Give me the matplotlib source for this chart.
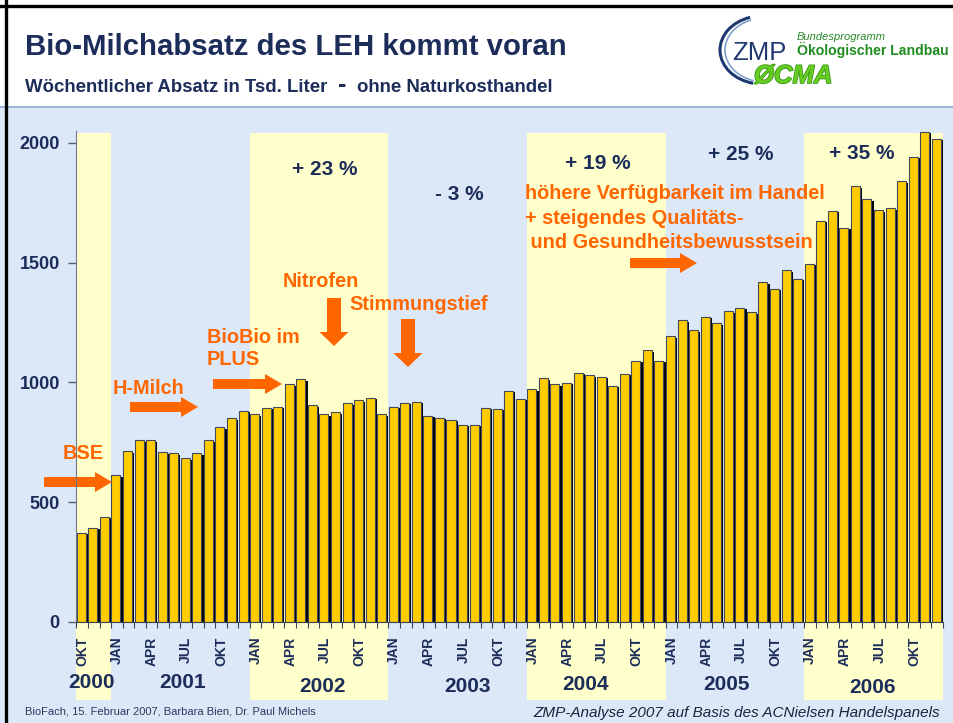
import matplotlib
matplotlib.use("Agg")
import matplotlib.pyplot as plt
import numpy as np
from matplotlib.patches import Polygon, Rectangle, Arc
from matplotlib.transforms import Affine2D, blended_transform_factory
import matplotlib.patheffects as pe

plt.rcParams['font.family'] = ['Liberation Sans', 'DejaVu Sans']

# ---------------- data ----------------
values = [373, 394, 440, 612, 714, 759, 759, 708, 704, 683, 704, 759, 813, 850, 882,
          867, 895, 899, 992, 1014, 905, 867, 875, 913, 925, 937,
          867, 899, 916, 920, 861, 853, 845, 824, 824, 895, 891, 966,
          932, 973, 1019, 992, 999, 1041, 1030, 1025, 987, 1037, 1091, 1136, 1091,
          1194, 1260, 1218, 1275, 1248, 1297, 1312, 1293, 1418, 1392, 1470, 1434,
          1496, 1676, 1717, 1646, 1819, 1765, 1720, 1728, 1840, 1943, 2047, 2018]
month_labels = ['OKT', 'JAN', 'APR', 'JUL'] * 6 + ['OKT']
years = ['2000', '2001', '2002', '2003', '2004', '2005', '2006']
year_first_bar = [0, 3, 15, 27, 39, 51, 63]
year_last_bar = [2, 14, 26, 38, 50, 62, 74]
yticks = [0, 500, 1000, 1500, 2000]
growth_labels = ['+ 23 %', '- 3 %', '+ 19 %', '+ 25 %', '+ 35 %']

NAVY = '#1c2d5a'
ORANGE = '#ff6600'
BLUEBG = '#dce7f8'
BAND = '#ffffcc'

W, H = 954, 723
fig = plt.figure(figsize=(W / 100, H / 100), dpi=100, facecolor=BLUEBG)
T = Affine2D().scale(1 / W, -1 / H).translate(0, 1) + fig.transFigure

# header
fig.add_artist(Rectangle((0, 0), W, 106, transform=T, facecolor='white', edgecolor='none', zorder=0))
fig.add_artist(plt.Line2D([0, W], [106.5, 106.5], transform=T, color='#9fb4d8', lw=1.5))
fig.add_artist(plt.Line2D([0, W], [6, 6], transform=T, color='black', lw=2.4))
fig.add_artist(plt.Line2D([6, 6], [0, H], transform=T, color='black', lw=2.4))

# axes
ax_left, ax_right, ax_top, ax_bot = 76.5, 943, 131, 622
ax = fig.add_axes([ax_left / W, 1 - ax_bot / H, (ax_right - ax_left) / W, (ax_bot - ax_top) / H])
ax.set_facecolor('none')
n = len(values)
x = np.arange(n)
ax.set_xlim(-0.5, n - 0.5)
ax.set_ylim(0, 2050)

# yellow year bands (extend below axis)
bt = blended_transform_factory(ax.transData, T)
for i, yr in enumerate(years):
    if i % 2 == 0:
        ax.add_patch(Rectangle((year_first_bar[i] - 0.5, 133), year_last_bar[i] - year_first_bar[i] + 1,
                               700 - 133, transform=bt, facecolor=BAND, edgecolor='none',
                               clip_on=False, zorder=0))

vals = np.array(values, dtype=float)
ax.bar(x + 0.12, vals - 7, width=0.75, color='black', zorder=2)
ax.bar(x - 0.085, vals, width=0.78, color='#ffcc00', edgecolor='#404a5c', linewidth=0.8, zorder=2.1)

# axes styling
for s in ['top', 'right']:
    ax.spines[s].set_visible(False)
ax.spines['left'].set_color('#6f7784')
ax.spines['bottom'].set_color('#3a4458')
ax.spines['left'].set_zorder(3)
ax.spines['bottom'].set_zorder(3)
ax.set_yticks(yticks)
ax.set_yticklabels([str(v) for v in yticks], fontsize=13, fontweight='bold', color=NAVY)
ax.tick_params(axis='y', direction='out', length=6, width=1, color='#555d6c', pad=6)
label_pos = list(range(0, n, 3))
ax.set_xticks(label_pos)
ax.set_xticklabels(month_labels, rotation=90, fontsize=10, fontweight='bold', color=NAVY)
ax.tick_params(axis='x', length=0, pad=10.5)
ax.set_xticks(np.arange(-0.5, n, 1), minor=True)
ax.tick_params(axis='x', which='minor', direction='out', length=4, width=0.8, color='#3a4458')

# year labels
year_cx = [92, 183, 323, 468, 586, 727, 873]
year_by = [688, 688, 692, 692, 690, 690, 693]
for yr, cx, by in zip(years, year_cx, year_by):
    fig.text(cx, by, yr, transform=T, ha='center', va='baseline', fontsize=15,
             fontweight='bold', color=NAVY)

# growth labels
g_pos = [(292, 175), (435, 200), (565, 169), (708, 160), (829, 159)]
for lab, (gx, gy) in zip(growth_labels, g_pos):
    fig.text(gx, gy, lab, transform=T, ha='left', va='baseline', fontsize=15,
             fontweight='bold', color=NAVY)

# orange annotations
ann = [('BSE', 63, 459), ('H-Milch', 113, 394), ('BioBio im', 207, 343), ('PLUS', 207, 365),
       ('Nitrofen', 283, 287), ('Stimmungstief', 349, 310),
       ('höhere Verfügbarkeit im Handel', 525, 199),
       ('+ steigendes Qualitäts-', 525, 224),
       (' und Gesundheitsbewusstsein', 525, 248)]
for s, tx, ty in ann:
    fig.text(tx, ty, s, transform=T, ha='left', va='baseline', fontsize=14.3,
             fontweight='bold', color=ORANGE)


def harrow(x0, x1, yc, shaft=10, head_h=20, head_l=17):
    pts = [(x0, yc - shaft / 2), (x1 - head_l, yc - shaft / 2), (x1 - head_l, yc - head_h / 2),
           (x1, yc), (x1 - head_l, yc + head_h / 2), (x1 - head_l, yc + shaft / 2), (x0, yc + shaft / 2)]
    ax.add_patch(Polygon(pts, closed=True, transform=T, facecolor=ORANGE, edgecolor='none',
                         clip_on=False, zorder=2.5))


def varrow(xc, y0, y1, shaft=14, head_w=29, head_l=14):
    pts = [(xc - shaft / 2, y0), (xc - shaft / 2, y1 - head_l), (xc - head_w / 2, y1 - head_l),
           (xc, y1), (xc + head_w / 2, y1 - head_l), (xc + shaft / 2, y1 - head_l), (xc + shaft / 2, y0)]
    ax.add_patch(Polygon(pts, closed=True, transform=T, facecolor=ORANGE, edgecolor='none',
                         clip_on=False, zorder=2.5))


harrow(44, 112, 482)
harrow(130, 198, 407)
harrow(213, 282, 384)
harrow(630, 697, 263)
varrow(334, 298, 346)
varrow(408, 319, 367)

# title
fig.text(25, 55, 'Bio-Milchabsatz des LEH kommt voran', transform=T, fontsize=21.2,
         fontweight='bold', color=NAVY, va='baseline')
fig.text(25, 92, 'Wöchentlicher Absatz in Tsd. Liter', transform=T, fontsize=13.4,
         fontweight='bold', color=NAVY, va='baseline')
fig.text(338, 92, '-', transform=T, fontsize=18, fontweight='bold', color=NAVY, va='baseline')
fig.text(357, 92, 'ohne Naturkosthandel', transform=T, fontsize=13.4,
         fontweight='bold', color=NAVY, va='baseline')

# footer
fig.text(25, 714, 'BioFach, 15. Februar 2007, Barbara Bien, Dr. Paul Michels', transform=T,
         fontsize=8, color='#2a3a5a', va='baseline')
fig.text(533, 717, 'ZMP-Analyse 2007 auf Basis des ACNielsen Handelspanels', transform=T,
         fontsize=11, style='italic', color='#1c2440', va='baseline')

# logo
fig.add_artist(Arc((762, 50), 84, 68, theta1=105, theta2=250, transform=T, color='#1f3870', lw=2.2))
fig.add_artist(Arc((765, 50), 80, 64, theta1=110, theta2=245, transform=T, color='#7fa0cf', lw=1.2))
fig.text(732, 60, 'ZMP', transform=T, fontsize=18.5, color='#1f3870', va='baseline')
fig.text(797, 40, 'Bundesprogramm', transform=T, fontsize=8, style='italic', color='#2a8a2a', va='baseline')
fig.text(797, 55, 'Ökologischer Landbau', transform=T, fontsize=10.1, fontweight='bold',
         color='#1e8c1e', va='baseline')
fig.text(754, 83, 'ØCMA', transform=T, fontsize=18.5, fontweight='bold', style='italic',
         color='#66cc22', va='baseline',
         path_effects=[pe.withStroke(linewidth=1.2, foreground='#3a9a1a')])

fig.savefig('out.png', dpi=100, facecolor=BLUEBG)
